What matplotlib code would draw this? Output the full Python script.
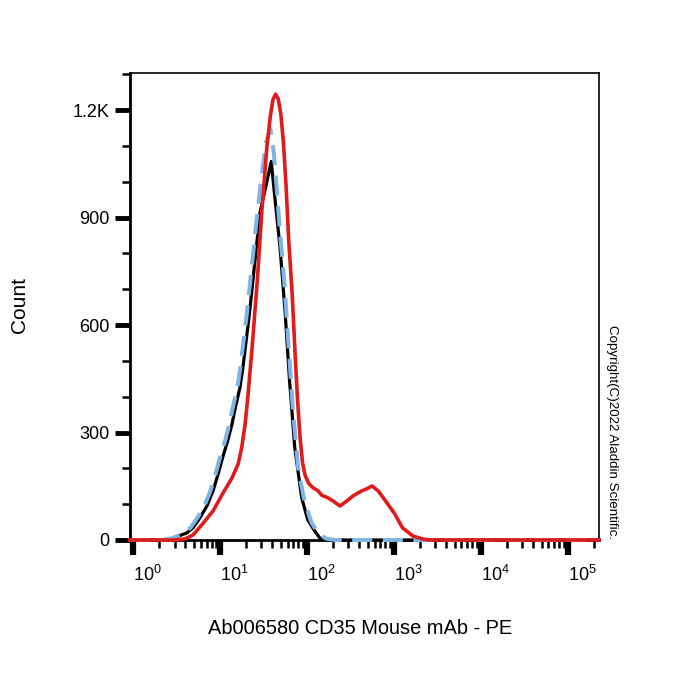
import numpy as np
import matplotlib
matplotlib.use("Agg")
import matplotlib.pyplot as plt
from matplotlib.ticker import FixedLocator, NullFormatter
import matplotlib.transforms as mtransforms

plt.rcParams['font.family'] = ['Liberation Sans', 'DejaVu Sans']
plt.rcParams['mathtext.fontset'] = 'custom'
plt.rcParams['mathtext.rm'] = 'Liberation Sans'
plt.rcParams['mathtext.it'] = 'Liberation Sans'

# data: x in log10 units of PE fluorescence, y = Count
red_log = [-0.04, 0.46, 0.60, 0.69, 0.80, 0.92, 1.03, 1.14, 1.21, 1.25, 1.29, 1.32, 1.37,
           1.43, 1.48, 1.54, 1.58, 1.61, 1.64, 1.67, 1.70, 1.73, 1.76, 1.79, 1.83, 1.86,
           1.89, 1.92, 1.95, 1.98, 2.02, 2.07, 2.13, 2.17, 2.24, 2.30, 2.38, 2.46, 2.53,
           2.63, 2.69, 2.75, 2.82, 2.92, 3.01, 3.10, 3.22, 3.33, 3.41, 5.36]
red_cnt = [0, 0, 3, 14, 45, 81, 129, 174, 213, 258, 325, 398, 538,
           726, 914, 1099, 1185, 1230, 1245, 1232, 1190, 1110, 990, 840, 690, 540,
           400, 290, 215, 180, 158, 146, 137, 125, 118, 109, 95, 109, 123,
           137, 143, 151, 137, 104, 73, 34, 11, 3, 0, 0]

black_log = [-0.04, 0.37, 0.46, 0.62, 0.69, 0.77, 0.85, 0.92, 0.98, 1.03, 1.09, 1.14, 1.17,
             1.23, 1.26, 1.34, 1.40, 1.46, 1.52, 1.59, 1.63, 1.69, 1.75, 1.80, 1.86, 1.94,
             2.01, 2.09, 2.15, 2.26, 5.36]
black_cnt = [0, 0, 5, 20, 34, 62, 95, 137, 185, 230, 278, 325, 362,
             426, 474, 634, 774, 914, 979, 1057, 959, 819, 634, 446, 258, 118,
             56, 25, 5, 0, 0]

blue_log = [-0.04, 0.33, 0.45, 0.55, 0.66, 0.74, 0.82, 0.89, 0.95, 1.00, 1.06, 1.11, 1.14,
            1.20, 1.23, 1.31, 1.37, 1.42, 1.47, 1.53, 1.58, 1.62, 1.66, 1.69, 1.74, 1.79,
            1.84, 1.90, 1.97, 2.05, 2.13, 2.22, 2.32, 5.36]
blue_cnt = [0, 0, 5, 15, 34, 62, 95, 137, 185, 230, 278, 325, 362,
            426, 474, 634, 774, 890, 1000, 1110, 1147, 1080, 960, 860, 720, 540,
            360, 200, 110, 50, 18, 4, 0, 0]

y_ticks = [0, 300, 600, 900, 1200]
y_ticklabels = ['0', '300', '600', '900', '1.2K']
x_decades = [0, 1, 2, 3, 4, 5]
x_ticklabels = [r'$\mathregular{10^{%d}}$' % d for d in x_decades]

fig = plt.figure(figsize=(7, 7), dpi=100)
ax = fig.add_axes([130/700, 1-540/700, (599-130)/700, (540-73)/700])

ax.plot(10**np.array(black_log), black_cnt, color='black', lw=2.3, clip_on=False, zorder=3,
        solid_joinstyle='round')
ax.plot(10**np.array(blue_log), blue_cnt, color='#80b4e6', lw=2.9, ls=(0, (5, 2.6)),
        clip_on=False, zorder=4)
ax.plot(10**np.array(red_log), red_cnt, color='#e01b1b', lw=2.6, clip_on=False, zorder=5,
        solid_joinstyle='round')

ax.set_xscale('log')
ax.set_xlim(10**-0.035, 10**5.36)
ax.set_ylim(0, 1304)

# x ticks
ax.xaxis.set_major_locator(FixedLocator([10.0**d for d in x_decades]))
minor = [m * 10.0**d for d in range(0, 5) for m in range(2, 10)] + [2e5]
ax.xaxis.set_minor_locator(FixedLocator(minor))
ax.xaxis.set_minor_formatter(NullFormatter())
ax.set_xticklabels(x_ticklabels, fontsize=13, ha='left')
offset = mtransforms.ScaledTranslation(-2/72, 0, fig.dpi_scale_trans)
for lab in ax.get_xticklabels():
    lab.set_transform(lab.get_transform() + offset)
ax.tick_params(axis='x', which='major', direction='out', length=11, width=4.5, pad=7)
ax.tick_params(axis='x', which='minor', direction='out', length=6, width=1.8)

# y ticks
ax.set_yticks(y_ticks)
ax.set_yticklabels(y_ticklabels, fontsize=13)
ax.yaxis.set_minor_locator(FixedLocator([100, 200, 400, 500, 700, 800, 1000, 1100, 1300]))
ax.tick_params(axis='y', which='major', direction='out', length=11, width=3.5, pad=4)
ax.tick_params(axis='y', which='minor', direction='out', length=6, width=1.8)

for s in ['left', 'bottom']:
    ax.spines[s].set_linewidth(2.0)
for s in ['top', 'right']:
    ax.spines[s].set_linewidth(1.2)

fig.text(20/700, 1-305/700, 'Count', rotation=90, ha='center', va='center', fontsize=15)
fig.text(360/700, 1-628/700, 'Ab006580 CD35 Mouse mAb - PE', ha='center', va='center',
         fontsize=14.4)
fig.text(612/700, 1-432/700, 'Copyright(C)2022 Aladdin Scientific.', rotation=-90,
         ha='center', va='center', fontsize=9.6)

fig.savefig('out.png', dpi=100)
